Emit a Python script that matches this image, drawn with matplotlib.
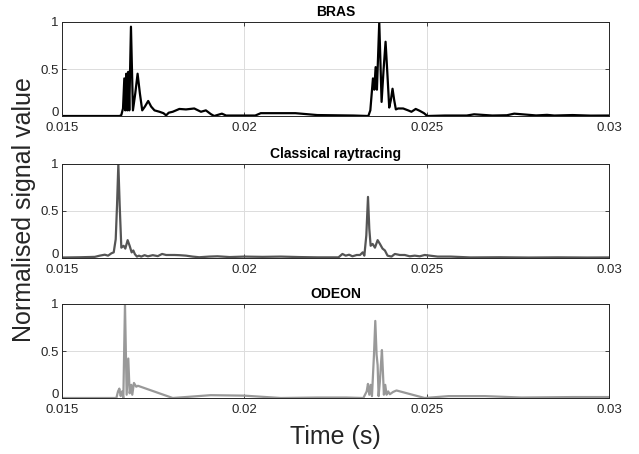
#!/usr/bin/env python3

import matplotlib
matplotlib.use("Agg")
import matplotlib.pyplot as plt


# values, time in seconds, amplitude normalised
BRAS_T = [
    0.0150, 0.01658, 0.016627, 0.016673, 0.016709, 0.016736, 0.016764, 0.016791,
    0.016818, 0.016845, 0.016891, 0.016945, 0.017009, 0.017073, 0.017136, 0.017200,
    0.017273, 0.017364, 0.017445, 0.017536, 0.017673, 0.017782, 0.017855, 0.017927,
    0.018036, 0.018218, 0.018400, 0.018627, 0.018810, 0.018945, 0.019082, 0.019173,
    0.019385, 0.019500, 0.020300, 0.020450, 0.021000, 0.021400, 0.022000, 0.023000,
    0.023400, 0.023455, 0.023527, 0.023564, 0.023600, 0.023636, 0.023700, 0.023764,
    0.023818, 0.023873, 0.023927, 0.023973, 0.024018, 0.024064, 0.024109, 0.024155,
    0.024218, 0.024355, 0.024491, 0.024582, 0.024700, 0.024810, 0.024927, 0.025018,
    0.025500, 0.026100, 0.026300, 0.026800, 0.027200, 0.027400, 0.028000, 0.028300,
    0.028500, 0.029000, 0.029500, 0.030000,
]
BRAS_V = [
    0.0, 0.0, 0.01, 0.08, 0.40, 0.06, 0.45, 0.06,
    0.47, 0.06, 0.95, 0.06, 0.24, 0.45, 0.24, 0.06,
    0.10, 0.16, 0.10, 0.06, 0.045, 0.03, 0.007, 0.035,
    0.045, 0.075, 0.07, 0.08, 0.045, 0.06, 0.02, 0.0,
    0.025, 0.005, 0.005, 0.03, 0.03, 0.03, 0.01, 0.005,
    0.0, 0.06, 0.40, 0.28, 0.52, 0.28, 1.0, 0.15,
    0.49, 0.79, 0.42, 0.09, 0.17, 0.29, 0.17, 0.07,
    0.08, 0.08, 0.06, 0.045, 0.075, 0.055, 0.03, 0.0,
    0.005, 0.005, 0.018, 0.005, 0.008, 0.025, 0.006, 0.012,
    0.005, 0.01, 0.004, 0.005,
]

RAY_T = [
    0.0150, 0.01550, 0.01590, 0.016036, 0.016173, 0.016264, 0.016355, 0.016418,
    0.016473, 0.016509, 0.016545, 0.016582, 0.016627, 0.016690, 0.016736, 0.016800,
    0.016855, 0.016910, 0.016955, 0.017000, 0.017055, 0.017110, 0.017173, 0.017264,
    0.017355, 0.017490, 0.017627, 0.017745, 0.017855, 0.018082, 0.018218, 0.018400,
    0.018580, 0.018764, 0.019036, 0.019264, 0.019600, 0.020000, 0.020500, 0.021000,
    0.021500, 0.022000, 0.022582, 0.022690, 0.022780, 0.022873, 0.022964, 0.023082,
    0.023173, 0.023245, 0.023291, 0.023345, 0.023391, 0.023427, 0.023464, 0.023518,
    0.023582, 0.023655, 0.023718, 0.023790, 0.023855, 0.023927, 0.024036, 0.024127,
    0.024264, 0.024400, 0.024536, 0.024673, 0.024810, 0.024945, 0.025300, 0.025660,
    0.026200, 0.027000, 0.027800, 0.028600, 0.029400, 0.030000,
]
RAY_V = [
    0.005, 0.008, 0.012, 0.025, 0.035, 0.025, 0.05, 0.06,
    0.20, 0.56, 1.0, 0.56, 0.11, 0.13, 0.10, 0.19,
    0.13, 0.06, 0.08, 0.04, 0.015, 0.025, 0.015, 0.03,
    0.018, 0.03, 0.02, 0.043, 0.032, 0.032, 0.03, 0.025,
    0.015, 0.008, 0.015, 0.018, 0.01, 0.015, 0.012, 0.015,
    0.01, 0.007, 0.007, 0.043, 0.025, 0.035, 0.018, 0.032,
    0.032, 0.06, 0.025, 0.24, 0.65, 0.31, 0.13, 0.15,
    0.11, 0.19, 0.15, 0.10, 0.08, 0.025, 0.015, 0.043,
    0.032, 0.032, 0.018, 0.025, 0.018, 0.032, 0.015, 0.015,
    0.006, 0.008, 0.005, 0.007, 0.005, 0.006,
]

ODEON_T = [
    0.0150, 0.016491, 0.016536, 0.016573, 0.016609, 0.016645, 0.016682, 0.016727,
    0.016773, 0.016818, 0.016855, 0.016900, 0.016927, 0.016973, 0.017036, 0.017082,
    0.018036, 0.019080, 0.020000, 0.021000, 0.022000, 0.022800, 0.023264, 0.023355,
    0.023390, 0.023427, 0.023464, 0.023500, 0.023555, 0.023591, 0.023627, 0.023655,
    0.023682, 0.023718, 0.023745, 0.023773, 0.023800, 0.023827, 0.023864, 0.023900,
    0.023945, 0.023990, 0.024082, 0.024173, 0.024945, 0.025600, 0.026600, 0.027600,
    0.029000, 0.030000,
]
ODEON_V = [
    0.0, 0.0, 0.07, 0.10, 0.02, 0.07, 0.0, 1.0,
    0.035, 0.42, 0.05, 0.14, 0.035, 0.16, 0.12, 0.13,
    0.0, 0.03, 0.025, 0.0, 0.005, 0.005, 0.0, 0.07,
    0.15, 0.035, 0.14, 0.02, 0.46, 0.82, 0.46, 0.35,
    0.02, 0.18, 0.35, 0.51, 0.28, 0.035, 0.14, 0.035,
    0.07, 0.04, 0.065, 0.08, 0.0, 0.02, 0.02, 0.005,
    0.01, 0.01,
]

PANELS = [
    ("BRAS", BRAS_T, BRAS_V, "#000000"),
    ("Classical raytracing", RAY_T, RAY_V, "#555555"),
    ("ODEON", ODEON_T, ODEON_V, "#999999"),
]

X_TICKS = [0.015, 0.02, 0.025, 0.03]
X_TICK_LABELS = ["0.015", "0.02", "0.025", "0.03"]
Y_TICKS = [0, 0.5, 1]
Y_TICK_LABELS = ["0", "0.5", "1"]


def main() -> int:
    plt.rcParams["font.family"] = ["Liberation Sans", "DejaVu Sans"]
    fig = plt.figure(figsize=(6.39, 4.54), dpi=100)

    left = 62 / 639
    width = 547 / 639
    height = 94 / 454
    tops = [22, 164, 304]
    axis_color = "#262626"

    for (title, times, values, color), top in zip(PANELS, tops):
        bottom = 1 - (top + 94) / 454
        ax = fig.add_axes([left, bottom, width, height])
        ax.plot(times, values, color=color, linewidth=1.6)
        ax.set_xlim(0.015, 0.03)
        ax.set_ylim(0, 1)
        ax.set_xticks(X_TICKS)
        ax.set_xticklabels(X_TICK_LABELS)
        ax.set_yticks(Y_TICKS)
        ax.set_yticklabels(Y_TICK_LABELS)
        ax.tick_params(direction="in", top=True, right=True, length=3,
                       labelsize=9.5, colors=axis_color, width=0.6)
        ax.tick_params(axis="x", pad=4.5)
        ax.tick_params(axis="y", pad=2.5)
        # keep the "0" just clear of the first time label under it
        ax.get_yticklabels()[0].set_verticalalignment("baseline")
        ax.grid(True, color="#dcdcdc", linewidth=0.7)
        ax.set_axisbelow(True)
        for spine in ax.spines.values():
            spine.set_color(axis_color)
            spine.set_linewidth(0.7)
        ax.set_title(title, fontsize=10, fontweight="bold", pad=4)

    fig.text((62 + 273.5) / 639, 0.012, "Time (s)", ha="center", va="bottom",
             fontsize=18, color=axis_color)
    fig.text(0.018, 1 - 210 / 454, "Normalised signal value", ha="left",
             va="center", rotation=90, fontsize=18, color=axis_color)

    fig.savefig("out.png", dpi=100)
    plt.close(fig)
    return 0


if __name__ == "__main__":
    raise SystemExit(main())
